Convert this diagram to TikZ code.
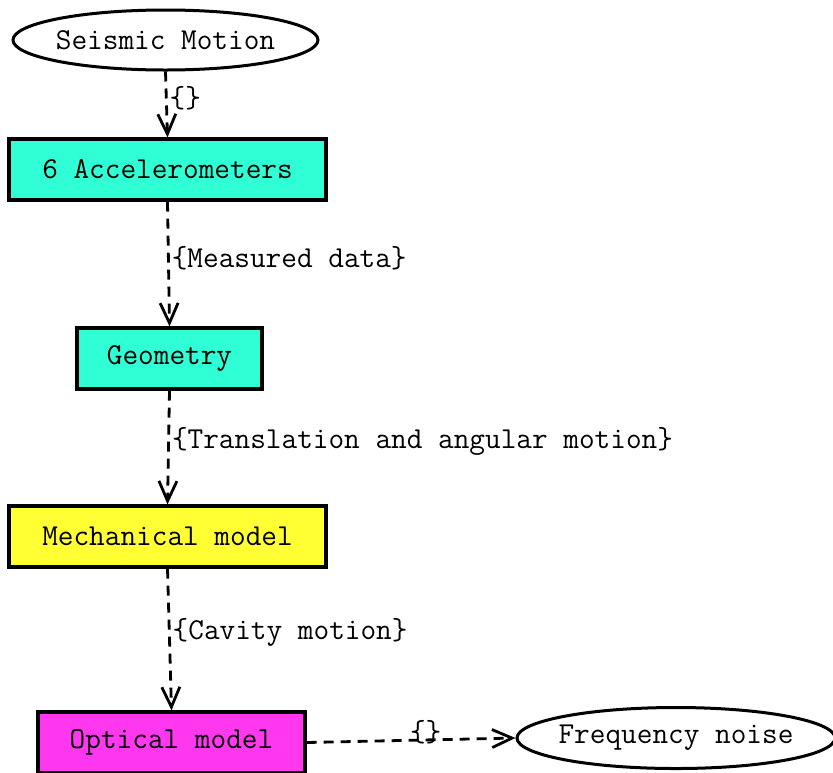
\documentclass[tikz,border=0pt]{standalone}
\usepackage{fontspec}
\usepackage{xcolor}
\usepackage{tikz}
\usetikzlibrary{positioning,shapes.geometric,arrows.meta}

\definecolor{accelcol}{RGB}{48,255,214}
\definecolor{mechcol}{RGB}{255,255,51}
\definecolor{optcol}{RGB}{255,56,240}

\begin{document}
\begin{tikzpicture}[
    x=0.5pt, y=-0.5pt,
    font=\ttfamily\fontsize{15.2}{18}\selectfont,
    signal/.style  ={draw, line width=1.5pt, ellipse, inner xsep=-12pt, inner ysep=0pt, fill=white},
    block/.style   ={draw, line width=1.6pt, rectangle, inner sep=0pt, minimum height=30.5pt},
    flow/.style    ={line width=1.4pt, dash pattern=on 5pt off 3.5pt, -{Straight Barb[length=10pt,width=9pt,line width=1.4pt]}},
    tag/.style     ={right, inner sep=1pt, font=\ttfamily\fontsize{15.2}{18}\selectfont}
]
\useasboundingbox (0,0) rectangle (833,772);

% --- Input and output signals ---
\node[signal, minimum width=152.5pt, minimum height=30pt] (seismic) at (165.5,40) {Seismic Motion};
\node[signal, minimum width=159pt, minimum height=30.5pt] (freq) at (676,738) {Frequency noise};

% --- Processing chain ---
\node[block, fill=accelcol, minimum width=158.5pt] (accel) at (167.5,169.5) {6 Accelerometers};
\node[block, fill=accelcol, minimum width=92.5pt]  (geom)  at (169.5,358.5) {Geometry};
\node[block, fill=mechcol,  minimum width=158.5pt] (mech)  at (167.5,536.5) {Mechanical model};
\node[block, fill=optcol,   minimum width=133.5pt] (optic) at (171.5,742.5) {Optical model};

% --- Connections ---
\draw[flow] (seismic.south) -- node[tag, pos=0.4] {\{\}} (accel.north);
\draw[flow] (accel.south) -- node[tag, pos=0.45] {\{Measured data\}} (geom.north);
\draw[flow] (geom.south) -- node[tag, pos=0.45] {\{Translation and angular motion\}} (mech.north);
\draw[flow] (mech.south) -- node[tag, pos=0.45] {\{Cavity motion\}} (optic.north);
\draw[flow] (optic.east) -- node[inner sep=0pt, pos=0.57, yshift=4pt] {\{\}} (freq.west);

\end{tikzpicture}
\end{document}
